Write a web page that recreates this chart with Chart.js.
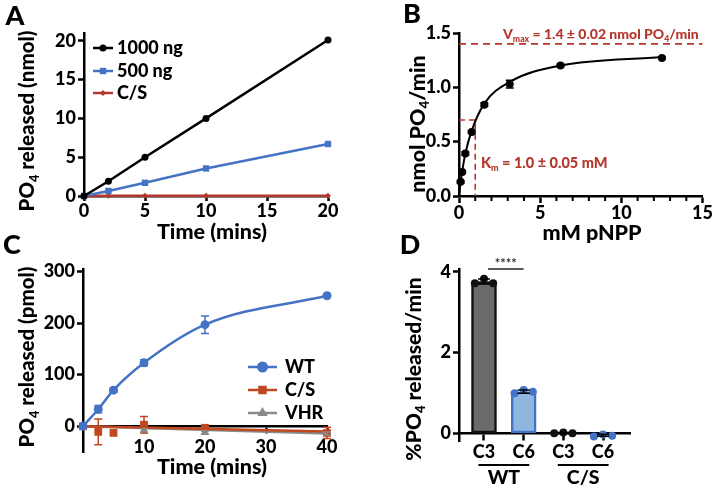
<!DOCTYPE html>
<html><head><meta charset="utf-8">
<script src="https://cdn.jsdelivr.net/npm/chart.js@4.4.1/dist/chart.umd.min.js"></script>
<style>
html,body{margin:0;padding:0;background:#fff;}
#wrap{position:relative;width:714px;height:485px;overflow:hidden;background:#fff}
#wrap canvas{position:absolute;left:0;top:0}
</style></head><body>
<div id="wrap">
<canvas id="cA" width="714" height="485"></canvas>
<canvas id="cB" width="714" height="485"></canvas>
<canvas id="cC" width="714" height="485"></canvas>
<canvas id="cD" width="714" height="485"></canvas>
</div>
<script>
// ---------------- DATA ----------------
// Panel A
const aTime = [0, 2, 5, 10, 20];
const a1000 = [0, 1.9, 5.0, 10.0, 20.1];
const a500  = [0, 0.65, 1.7, 3.55, 6.7];
const aCS   = [0, 0.03, 0.03, 0.03, 0.03];
const aXTicks = [0, 5, 10, 15, 20];
const aYTicks = [0, 5, 10, 15, 20];
const aLabels = ['1000 ng', '500 ng', 'C/S'];

// Panel B
const bConc   = [0.098, 0.195, 0.39, 0.78, 1.56, 3.125, 6.25, 12.5];
const bRate   = [0.13, 0.22, 0.39, 0.59, 0.84, 1.03, 1.20, 1.27];
const bRateSD = [0.01, 0.01, 0.015, 0.01, 0.015, 0.035, 0.012, 0.01];
const bFitConc = [0, 0.098, 0.195, 0.39, 0.78, 1.56, 3.125, 6.25, 12.5];
const bFitRate = [0, 0.125, 0.225, 0.39, 0.6, 0.85, 1.05, 1.2, 1.28];
const bVmax = 1.4, bKm = 1.0, bHalfVmax = 0.7, bXEnd = 15;
const bXTicks = [0, 5, 10, 15];
const bXMinor = [1, 2, 3, 4, 6, 7, 8, 9, 11, 12, 13, 14];
const bYTicks = [0, 0.5, 1.0, 1.5];

// Panel C
const cTime = [0, 2.5, 5, 10, 20, 40];
const cWT   = [0, 33, 70, 123, 197, 253];
const cWTsd = [0, 7, 4, 6, 17, 3];
const cCS   = [0, -11, -13, 3, -3, -13];
const cCSsd = [0, 25, 0, 16, 3, 11];
const cVHRTime = [0, 10, 20, 40];
const cVHR   = [0, -8, -12, -14];
const cVHRsd = [0, 3, 3, 3];
const cFitTime = [0, 40];
const cCSFit  = [0, -10];
const cVHRFit = [0, -14];
const cXTicks = [10, 20, 30, 40];
const cYTicks = [0, 100, 200, 300];
const cLabels = ['WT', 'C/S', 'VHR'];

// Panel D
const dCats   = ['C3', 'C6', 'C3', 'C6'];
const dGroups = ['WT', 'C/S'];
const dMeans  = [3.76, 1.03, 0.01, -0.05];
const dSD     = [0.06, 0.04, 0.012, 0.025];
const dReps   = [[3.72, 3.83, 3.72], [0.99, 1.07, 1.03], [0, 0.02, 0], [-0.08, -0.03, -0.06]];
const dYTicks = [0, 2, 4];
const dSig = '****';

// ---------------- STYLE ----------------
const FONT = 'Lato, "Liberation Sans", Arial, sans-serif';
const W = '900';
const BLUE = '#4472c4';
const REDA = '#b5362a';
const REDC = '#c0471f';
const GRAY = '#8a8a8a';
const ANN  = '#b5362a';
const tickFont = {family: FONT, size: 18, weight: W, lineHeight: 1};

const xy = (xs, ys) => xs.map((x, i) => ({x, y: ys[i]}));
const fontStr = (size, w) => `${w || W} ${size}px ${FONT}`;

function drawRich(ctx, it) {
  const size = it.size, sub = size * 0.62;
  ctx.save();
  ctx.translate(it.x, it.y);
  if (it.rot) ctx.rotate(it.rot);
  let w = 0;
  const parts = it.parts.map(p => {
    const isSub = Array.isArray(p);
    const t = isSub ? p[0] : p;
    ctx.font = fontStr(isSub ? sub : size, it.weight);
    const pw = ctx.measureText(t).width;
    w += pw;
    return {t, isSub, pw};
  });
  let cx = it.align === 'left' ? 0 : -w / 2;
  ctx.fillStyle = it.color || '#000';
  ctx.textBaseline = 'alphabetic';
  ctx.textAlign = 'left';
  const base = size * 0.36;
  parts.forEach(p => {
    ctx.font = fontStr(p.isSub ? sub : size, it.weight);
    ctx.fillText(p.t, cx, p.isSub ? base + size * 0.22 : base);
    cx += p.pw;
  });
  ctx.restore();
}
const textPlugin = items => ({id: 'texts', afterDraw(chart) { items.forEach(it => drawRich(chart.ctx, it)); }});

function errorBarPlugin(specs) {
  return {id: 'errbars', afterDatasetsDraw(chart) {
    const ctx = chart.ctx, ys = chart.scales.y;
    specs.forEach(s => {
      const meta = chart.getDatasetMeta(s.ds);
      const data = chart.data.datasets[s.ds].data;
      meta.data.forEach((el, i) => {
        const e = s.sd[i]; if (!e) return;
        const v = data[i].y;
        const y1 = ys.getPixelForValue(v + e), y2 = ys.getPixelForValue(v - e), x = el.x;
        ctx.save(); ctx.strokeStyle = s.color; ctx.lineWidth = s.lw || 1.5;
        ctx.beginPath();
        ctx.moveTo(x, y1); ctx.lineTo(x, y2);
        ctx.moveTo(x - s.cap, y1); ctx.lineTo(x + s.cap, y1);
        ctx.moveTo(x - s.cap, y2); ctx.lineTo(x + s.cap, y2);
        ctx.stroke(); ctx.restore();
      });
    });
  }};
}

function legendPlugin(entries, size) {
  return {id: 'mylegend', afterDraw(chart) {
    const ctx = chart.ctx;
    entries.forEach(e => {
      const d = chart.data.datasets[e.ds];
      ctx.save();
      ctx.strokeStyle = d.borderColor; ctx.fillStyle = d.borderColor; ctx.lineWidth = 2.5;
      ctx.beginPath(); ctx.moveTo(e.x1, e.y); ctx.lineTo(e.x2, e.y); ctx.stroke();
      Chart.helpers.drawPoint(ctx, {pointStyle: d.pointStyle, radius: e.r, rotation: 0, borderWidth: 0}, (e.x1 + e.x2) / 2, e.y);
      ctx.restore();
      drawRich(ctx, {parts: [e.text], x: e.tx, y: e.y, size: size, align: 'left'});
    });
  }};
}

function yAxis(min, max, ticks, width, fmt) {
  return {
    type: 'linear', min, max,
    afterBuildTicks: s => { s.ticks = ticks.map(v => ({value: v})); },
    afterFit: s => { s.width = width; },
    border: {display: true, color: '#000', width: 2.5},
    grid: {display: true, drawOnChartArea: false, drawTicks: true, tickLength: 6, tickWidth: 2.5, tickColor: '#000'},
    ticks: {font: tickFont, color: '#000', padding: 2, callback: fmt || (v => String(v))}
  };
}
function xAxis(min, max, ticks, height, extra) {
  return Object.assign({
    type: 'linear', min, max,
    afterBuildTicks: s => { s.ticks = ticks.map(v => ({value: v})); },
    afterFit: s => { s.height = height; },
    border: {display: true, color: '#000', width: 2.5},
    grid: {display: true, drawOnChartArea: false, drawTicks: true, tickLength: 5, tickWidth: 2.5, tickColor: '#000'},
    ticks: {font: tickFont, color: '#000', padding: 1, maxRotation: 0, autoSkip: false, callback: v => String(v)}
  }, extra || {});
}
const baseOpts = (padding, scales) => ({
  responsive: false, animation: false, events: [],
  layout: {padding},
  plugins: {legend: {display: false}, tooltip: {enabled: false}},
  scales
});
const ROT = -Math.PI / 2;

// ---------------- PANEL A ----------------
new Chart(document.getElementById('cA'), {
  type: 'line',
  data: {datasets: [
    {label: aLabels[0], data: xy(aTime, a1000), borderColor: '#000', backgroundColor: '#000', borderWidth: 2.5, pointStyle: 'circle', pointRadius: 3.5, pointBorderWidth: 0, clip: false},
    {label: aLabels[1], data: xy(aTime, a500), borderColor: BLUE, backgroundColor: BLUE, borderWidth: 2.5, pointStyle: 'rect', pointRadius: 4.5, pointBorderWidth: 0, clip: false},
    {label: aLabels[2], data: xy(aTime, aCS), borderColor: REDA, backgroundColor: REDA, borderWidth: 2.5, pointStyle: 'rectRot', pointRadius: 3, pointBorderWidth: 0, clip: false}
  ]},
  options: baseOpts({left: 0, top: 33, right: 386, bottom: 243}, {
    x: xAxis(0, 20, aXTicks, 46),
    y: yAxis(0, 21, aYTicks, 84)
  }),
  plugins: [
    textPlugin([
      {parts: ['A'], x: 15, y: 15, size: 27},
      {parts: ['PO', ['4'], ' released (nmol)'], x: 27, y: 121, size: 20.5, rot: ROT},
      {parts: ['Time (mins)'], x: 212, y: 231, size: 21.5}
    ]),
    legendPlugin([
      {ds: 0, x1: 93, x2: 113, tx: 117, y: 48, r: 3.5, text: aLabels[0]},
      {ds: 1, x1: 93, x2: 113, tx: 117, y: 71, r: 4.5, text: aLabels[1]},
      {ds: 2, x1: 93, x2: 113, tx: 117, y: 93, r: 3, text: aLabels[2]}
    ], 18)
  ]
});

// ---------------- PANEL B ----------------
new Chart(document.getElementById('cB'), {
  type: 'line',
  data: {datasets: [
    {label: 'points', data: xy(bConc, bRate), showLine: false, borderColor: '#000', backgroundColor: '#000', pointRadius: 4, pointBorderWidth: 0, clip: false},
    {label: 'fit', data: xy(bFitConc, bFitRate), borderColor: '#000', borderWidth: 2, pointRadius: 0, cubicInterpolationMode: 'monotone', clip: false},
    {label: 'Vmax', data: [{x: 0, y: bVmax}, {x: bXEnd, y: bVmax}], borderColor: ANN, borderWidth: 1.6, borderDash: [7, 5], pointRadius: 0, clip: false},
    {label: 'Km', data: [{x: 0, y: bHalfVmax}, {x: bKm, y: bHalfVmax}, {x: bKm, y: 0}], borderColor: ANN, borderWidth: 1.6, borderDash: [6, 4], pointRadius: 0, clip: false}
  ]},
  options: baseOpts({left: 357, top: 33, right: 10, bottom: 243}, {
    x: xAxis(0, bXEnd, bXTicks, 46, {grid: {display: true, drawOnChartArea: false, drawTicks: true, tickLength: 7, tickWidth: 2.5, tickColor: '#000'}}),
    y: yAxis(0, 1.5, bYTicks, 102, v => v.toFixed(1))
  }),
  plugins: [
    errorBarPlugin([{ds: 0, sd: bRateSD, color: '#000', cap: 4, lw: 1.5}]),
    {id: 'minor', afterDraw(chart) {
      const ctx = chart.ctx, xs = chart.scales.x, b = chart.chartArea.bottom;
      ctx.save(); ctx.strokeStyle = '#000'; ctx.lineWidth = 2;
      bXMinor.forEach(v => { const px = xs.getPixelForValue(v); ctx.beginPath(); ctx.moveTo(px, b); ctx.lineTo(px, b + 5); ctx.stroke(); });
      ctx.restore();
    }},
    textPlugin([
      {parts: ['B'], x: 412, y: 13, size: 27},
      {parts: ['nmol PO', ['4'], '/min'], x: 417, y: 124, size: 21.5, rot: ROT},
      {parts: ['mM pNPP'], x: 592, y: 232, size: 21.5},
      {parts: ['V', ['max'], ' = 1.4 ± 0.02 nmol PO', ['4'], '/min'], x: 503, y: 34, size: 14, color: ANN, align: 'left'},
      {parts: ['K', ['m'], ' = 1.0 ± 0.05 mM'], x: 481, y: 163, size: 14.5, color: ANN, align: 'left'}
    ])
  ]
});

// ---------------- PANEL C ----------------
new Chart(document.getElementById('cC'), {
  type: 'line',
  data: {datasets: [
    {label: cLabels[0], data: xy(cTime, cWT), borderColor: BLUE, backgroundColor: BLUE, borderWidth: 2.5, pointStyle: 'circle', pointRadius: 4.5, pointBorderWidth: 0, cubicInterpolationMode: 'monotone', clip: false},
    {label: 'csfit', data: xy(cFitTime, cCSFit), borderColor: REDC, borderWidth: 2.5, pointRadius: 0, clip: false},
    {label: 'vhrfit', data: xy(cFitTime, cVHRFit), borderColor: GRAY, borderWidth: 2.5, pointRadius: 0, clip: false},
    {label: cLabels[1], data: xy(cTime, cCS), showLine: false, borderColor: REDC, backgroundColor: REDC, pointStyle: 'rect', pointRadius: 5.5, pointBorderWidth: 0, clip: false},
    {label: cLabels[2], data: xy(cVHRTime, cVHR), showLine: false, borderColor: GRAY, backgroundColor: GRAY, pointStyle: 'triangle', pointRadius: 5, pointBorderWidth: 0, clip: false}
  ]},
  options: baseOpts({left: 0, top: 269, right: 387, bottom: 33}, {
    x: xAxis(0, 40, cXTicks, 40, {position: {y: 0}, grid: {display: true, drawOnChartArea: false, drawTicks: true, tickLength: 6, tickWidth: 2.5, tickColor: '#000'}, ticks: {font: tickFont, color: '#000', padding: 6, maxRotation: 0, autoSkip: false, callback: v => String(v)}}),
    y: yAxis(-50, 305, cYTicks, 83)
  }),
  plugins: [
    errorBarPlugin([
      {ds: 0, sd: cWTsd, color: BLUE, cap: 4},
      {ds: 3, sd: cCSsd, color: REDC, cap: 4},
      {ds: 4, sd: cVHRsd, color: GRAY, cap: 4}
    ]),
    textPlugin([
      {parts: ['C'], x: 12, y: 244, size: 27},
      {parts: ['PO', ['4'], ' released (pmol)'], x: 27, y: 357, size: 20.5, rot: ROT},
      {parts: ['Time (mins)'], x: 212, y: 466, size: 21.5}
    ]),
    legendPlugin([
      {ds: 0, x1: 248, x2: 277, tx: 285, y: 367, r: 5.5, text: cLabels[0]},
      {ds: 3, x1: 248, x2: 277, tx: 285, y: 390, r: 6, text: cLabels[1]},
      {ds: 4, x1: 248, x2: 277, tx: 285, y: 413, r: 6, text: cLabels[2]}
    ], 18)
  ]
});

// ---------------- PANEL D ----------------
const dJit = [-0.23, 0, 0.23];
const dFill = ['#6b6b6b', '#8fb6de', '#6b6b6b', '#8fb6de'];
const dEdge = ['#111111', BLUE, '#111111', BLUE];
new Chart(document.getElementById('cD'), {
  type: 'bar',
  data: {datasets: [
    {type: 'bar', label: 'mean', data: dCats.map((c, i) => ({x: i + 1, y: dMeans[i]})), backgroundColor: dFill, borderColor: dEdge, borderWidth: 2.5, borderSkipped: false, barThickness: 25, order: 3}
  ].concat(dReps.map((reps, i) => ({
    type: 'scatter', label: dCats[i], data: reps.map((v, j) => ({x: i + 1 + dJit[j], y: v})),
    backgroundColor: dEdge[i], borderColor: dEdge[i], pointRadius: 4, pointBorderWidth: 0, order: 1, clip: false
  })))},
  options: baseOpts({left: 357, top: 269, right: 84, bottom: 43.6}, {
    x: xAxis(0.37, 4.68, [1, 2, 3, 4], 40, {position: {y: 0}, offset: false,
      grid: {display: true, offset: false, drawOnChartArea: false, drawTicks: true, tickLength: 6, tickWidth: 2.5, tickColor: '#000'},
      ticks: {font: tickFont, color: '#000', padding: 4, maxRotation: 0, autoSkip: false, callback: v => dCats[Math.round(v) - 1]}}),
    y: yAxis(-0.2, 4.07, dYTicks, 102)
  }),
  plugins: [
    errorBarPlugin([{ds: 0, sd: dSD, color: '#000', cap: 6, lw: 1.5}]),
    {id: 'groups', afterDraw(chart) {
      const ctx = chart.ctx, xs = chart.scales.x, ys = chart.scales.y;
      ctx.save(); ctx.strokeStyle = '#000'; ctx.lineWidth = 2;
      dGroups.forEach((g, k) => {
        const x1 = xs.getPixelForValue(2 * k + 1 - 0.14), x2 = xs.getPixelForValue(2 * k + 2 + 0.14);
        ctx.beginPath(); ctx.moveTo(x1, 465); ctx.lineTo(x2, 465); ctx.stroke();
        drawRich(ctx, {parts: [g], x: (x1 + x2) / 2, y: 477, size: 19.5});
      });
      const s1 = xs.getPixelForValue(1.1), s2 = xs.getPixelForValue(2.0), sy = ys.getPixelForValue(4.07);
      ctx.strokeStyle = '#222'; ctx.lineWidth = 1.5;
      ctx.beginPath(); ctx.moveTo(s1, sy); ctx.lineTo(s2, sy); ctx.stroke();
      ctx.restore();
      drawRich(ctx, {parts: [dSig], x: (s1 + s2) / 2, y: sy - 6, size: 13, color: '#333', weight: 'bold'});
    }},
    textPlugin([
      {parts: ['D'], x: 410, y: 244, size: 27},
      {parts: ['%PO', ['4'], ' released/min'], x: 413, y: 369, size: 21, rot: ROT}
    ])
  ]
});
</script>
</body></html>
